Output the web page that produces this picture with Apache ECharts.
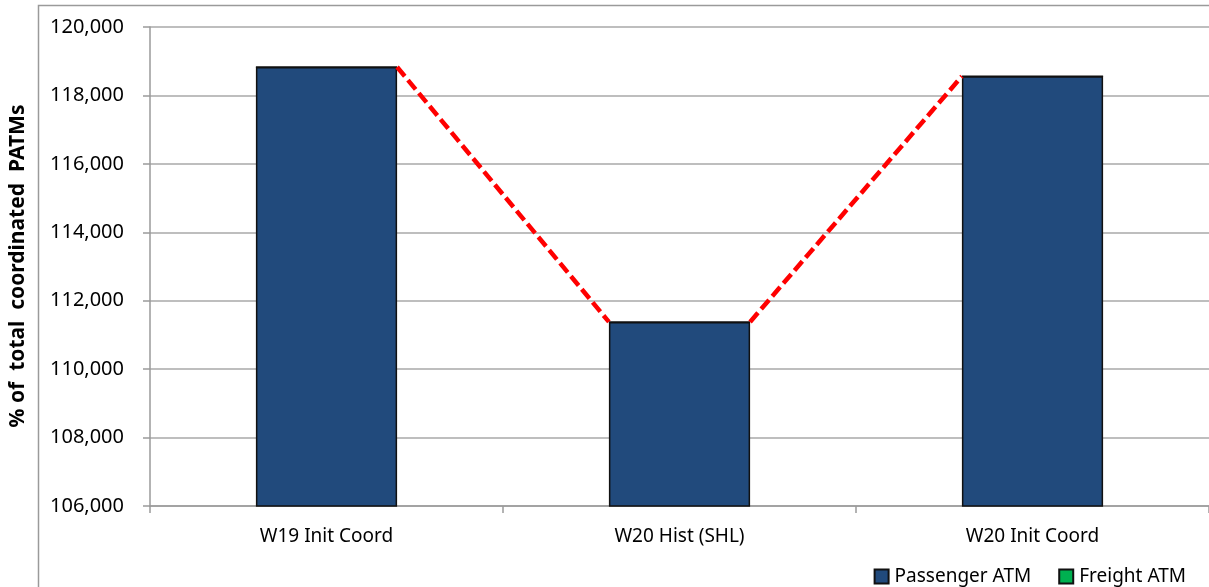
<!DOCTYPE html>
<html>
<head>
<meta charset="utf-8">
<script src="https://cdn.jsdelivr.net/npm/echarts@6/dist/echarts.min.js"></script>
<style>
  html, body { margin: 0; padding: 0; background: #fff; }
  #chart { width: 1209px; height: 587px; }
</style>
</head>
<body>
<div id="chart"></div>
<script>
// Coordinated air transport movements per season
const categories = ['W19 Init Coord', 'W20 Hist (SHL)', 'W20 Init Coord'];
const passengerATM = [118830, 111380, 118560];
const freightATM = [0, 0, 0];
const yTicks = { min: 106000, max: 120000, interval: 2000 };

const FONT = 'Noto Sans';
const BAR_WIDTH_FRACTION = 0.4;

// Total stack height per category, used by the connector lines
const totals = passengerATM.map((v, i) => v + freightATM[i]);
// One connector per neighbouring pair: [index, from-total, to-total]
const connectors = totals.slice(0, -1).map((v, i) => [i, v, totals[i + 1]]);

const chart = echarts.init(document.getElementById('chart'), null, { renderer: 'canvas' });

chart.setOption({
  animation: false,
  backgroundColor: '#ffffff',
  textStyle: { fontFamily: FONT },
  grid: { left: 150, right: 0, top: 27, bottom: 81, containLabel: false },
  graphic: [
    {
      type: 'polyline',
      shape: { points: [[38.5, 600], [38.5, 5.5], [1215, 5.5]] },
      style: { stroke: '#9a9a9a', lineWidth: 1.5, fill: null },
      silent: true
    },
    {
      type: 'text',
      rotation: Math.PI / 2,
      style: {
        text: '% of  total  coordinated  PATMs',
        font: 'bold 21px "' + FONT + '"',
        fill: '#000',
        textAlign: 'center',
        textVerticalAlign: 'middle'
      },
      x: 18,
      y: 266,
      silent: true
    }
  ],
  legend: {
    data: ['Passenger ATM', 'Freight ATM'],
    right: 18,
    top: 562,
    icon: 'rect',
    itemWidth: 14,
    itemHeight: 14,
    itemGap: 27,
    textStyle: { fontFamily: FONT, fontSize: 19, color: '#000', padding: [0, 0, 0, 1] }
  },
  xAxis: {
    type: 'category',
    data: categories,
    axisLine: { show: true, lineStyle: { color: '#9a9a9a', width: 1.5 } },
    axisTick: { show: true, alignWithLabel: false, length: 7, lineStyle: { color: '#9a9a9a', width: 1.5 } },
    axisLabel: { color: '#000', fontFamily: FONT, fontSize: 19, margin: 21 },
    splitLine: { show: false }
  },
  yAxis: {
    type: 'value',
    min: yTicks.min,
    max: yTicks.max,
    interval: yTicks.interval,
    axisLine: { show: true, lineStyle: { color: '#9a9a9a', width: 1.5 } },
    axisTick: { show: true, length: 7, lineStyle: { color: '#9a9a9a', width: 1.5 } },
    axisLabel: {
      color: '#000', fontFamily: FONT, fontSize: 20, margin: 26,
      formatter: v => v.toLocaleString('en-US')
    },
    splitLine: { show: true, lineStyle: { color: '#a8a8a8', width: 1.5 } }
  },
  series: [
    {
      name: 'Passenger ATM',
      type: 'bar',
      stack: 'atm',
      data: passengerATM,
      barWidth: (BAR_WIDTH_FRACTION * 100) + '%',
      itemStyle: { color: '#214a7c', borderColor: '#111', borderWidth: 1.5 },
      z: 2
    },
    {
      name: 'Freight ATM',
      type: 'bar',
      stack: 'atm',
      data: freightATM,
      barWidth: (BAR_WIDTH_FRACTION * 100) + '%',
      itemStyle: { color: '#00b050', borderColor: '#111', borderWidth: 1.5 },
      z: 2
    },
    {
      // Dashed connectors from the right edge of one stack to the left edge of the next
      name: 'connector',
      type: 'custom',
      data: connectors,
      encode: { x: 0, y: [1, 2] },
      z: 5,
      silent: true,
      renderItem: function (params, api) {
        const i = api.value(0);
        const halfBar = api.size([1, 0])[0] * BAR_WIDTH_FRACTION / 2;
        const p1 = api.coord([i, api.value(1)]);
        const p2 = api.coord([i + 1, api.value(2)]);
        return {
          type: 'line',
          shape: { x1: p1[0] + halfBar, y1: p1[1], x2: p2[0] - halfBar, y2: p2[1] },
          style: { stroke: '#ff0000', lineWidth: 4.5, lineDash: [12, 5], fill: null }
        };
      }
    }
  ]
});
</script>
</body>
</html>
